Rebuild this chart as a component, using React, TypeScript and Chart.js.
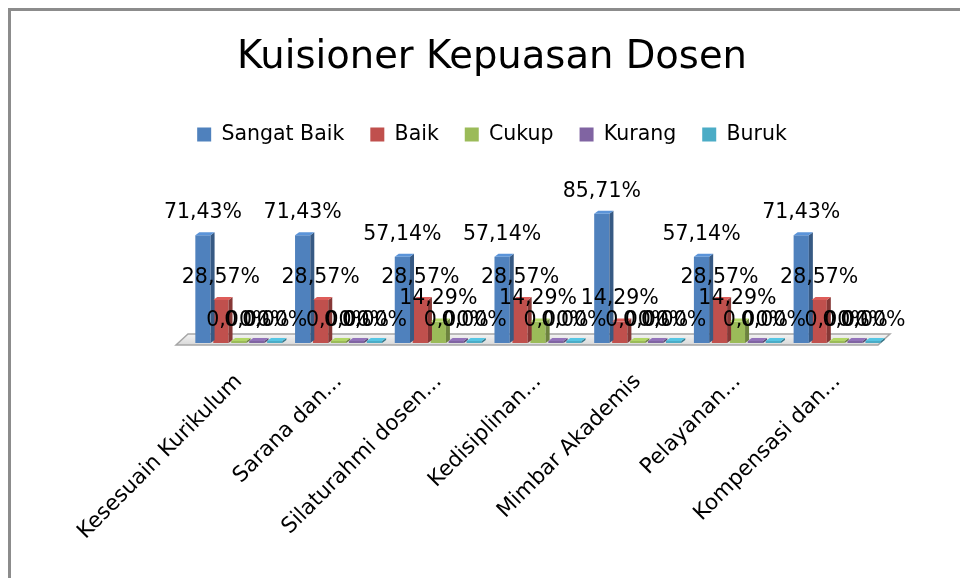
import React, { useEffect, useRef } from "react";
import { Chart, registerables } from "chart.js";

Chart.register(...registerables);

const categories = [
  "Kesesuain Kurikulum",
  "Sarana dan...",
  "Silaturahmi dosen...",
  "Kedisiplinan...",
  "Mimbar Akademis",
  "Pelayanan...",
  "Kompensasi dan...",
];
const seriesNames = ["Sangat Baik", "Baik", "Cukup", "Kurang", "Buruk"];
const sangatBaik = [71.43, 71.43, 57.14, 57.14, 85.71, 57.14, 71.43];
const baik = [28.57, 28.57, 28.57, 28.57, 14.29, 28.57, 28.57];
const cukup = [0, 0, 14.29, 14.29, 0, 14.29, 0];
const kurang = [0, 0, 0, 0, 0, 0, 0];
const buruk = [0, 0, 0, 0, 0, 0, 0];
const seriesValues = [sangatBaik, baik, cukup, kurang, buruk];
const seriesColors = ["#4F81BD", "#C0504D", "#9BBB59", "#8064A2", "#4BACC6"];

const FONT = "'DejaVu Sans'";
const TITLE_SIZE = 38.5;
const TITLE_PAD_TOP = 35;
const TITLE_PAD_BOTTOM = 17;
const LEGEND_HEIGHT = 94;

function shade(hex: string, f: number) {
  const n = parseInt(hex.slice(1), 16);
  const r = Math.round(((n >> 16) & 255) * f);
  const g = Math.round(((n >> 8) & 255) * f);
  const b = Math.round((n & 255) * f);
  return `rgb(${Math.min(255, r)},${Math.min(255, g)},${Math.min(255, b)})`;
}

const legendHeightPlugin = {
  id: "legendHeight",
  beforeUpdate(chart: any) {
    const lg = chart.legend;
    if (lg && !lg.__patched) {
      const orig = lg.fit.bind(lg);
      lg.fit = function () {
        orig();
        this.height = LEGEND_HEIGHT;
      };
      lg.__patched = true;
    }
  },
};

const floorPlugin = {
  id: "floor3d",
  beforeDatasetsDraw(chart: any) {
    const { ctx, chartArea } = chart;
    const { left, right, bottom } = chartArea;
    ctx.save();
    ctx.beginPath();
    ctx.moveTo(left - 13, bottom + 2);
    ctx.lineTo(right - 9, bottom + 2);
    ctx.lineTo(right + 3, bottom - 9);
    ctx.lineTo(left - 1, bottom - 9);
    ctx.closePath();
    const g = ctx.createLinearGradient(0, bottom - 9, 0, bottom + 2);
    g.addColorStop(0, "#f4f4f4");
    g.addColorStop(1, "#d8d8d8");
    ctx.fillStyle = g;
    ctx.fill();
    ctx.strokeStyle = "#a6a6a6";
    ctx.lineWidth = 1.5;
    ctx.stroke();
    ctx.restore();
  },
};

const bar3dPlugin = {
  id: "bar3d",
  afterDatasetsDraw(chart: any) {
    const { ctx } = chart;
    const dx = 4;
    const dy = 3;
    ctx.save();
    chart.data.datasets.forEach((ds: any, i: number) => {
      const meta = chart.getDatasetMeta(i);
      const col = seriesColors[i];
      meta.data.forEach((el: any) => {
        const { x, y, base, width } = el.getProps(["x", "y", "base", "width"], true);
        const r = x + width / 2;
        const l = x - width / 2;
        ctx.fillStyle = shade(col, 0.7);
        ctx.beginPath();
        ctx.moveTo(r, y);
        ctx.lineTo(r + dx, y - dy);
        ctx.lineTo(r + dx, base - dy);
        ctx.lineTo(r, base);
        ctx.closePath();
        ctx.fill();
        ctx.fillStyle = shade(col, 1.15);
        ctx.beginPath();
        ctx.moveTo(l, y);
        ctx.lineTo(l + dx, y - dy);
        ctx.lineTo(r + dx, y - dy);
        ctx.lineTo(r, y);
        ctx.closePath();
        ctx.fill();
      });
    });
    ctx.restore();
  },
};

const labelPlugin = {
  id: "valueLabels",
  afterDraw(chart: any) {
    const { ctx } = chart;
    ctx.save();
    ctx.font = `20.5px ${FONT}`;
    ctx.fillStyle = "#000";
    ctx.textAlign = "center";
    ctx.textBaseline = "alphabetic";
    const yScale = chart.scales.y;
    chart.data.datasets.forEach((ds: any, i: number) => {
      const meta = chart.getDatasetMeta(i);
      meta.data.forEach((el: any, j: number) => {
        const v = ds.data[j];
        const yv = yScale.getPixelForValue(v);
        const txt = v.toFixed(2).replace(".", ",") + "%";
        ctx.fillText(txt, el.x, yv - 17);
      });
    });
    ctx.restore();
  },
};

export default function App() {
  const ref = useRef<HTMLCanvasElement | null>(null);
  useEffect(() => {
    if (!ref.current) return;
    const chart = new Chart(ref.current, {
      type: "bar",
      data: {
        labels: categories,
        datasets: seriesNames.map((name, i) => ({
          label: name,
          data: seriesValues[i],
          backgroundColor: seriesColors[i],
          borderWidth: 0,
          minBarLength: 2,
          categoryPercentage: 0.9,
          barPercentage: 0.85,
        })),
      },
      options: {
        animation: false,
        responsive: false,
        maintainAspectRatio: false,
        layout: { padding: { left: 97, right: 73, top: 0, bottom: 0 } },
        plugins: {
          title: {
            display: true,
            text: "Kuisioner Kepuasan Dosen",
            color: "#000",
            font: { family: FONT, size: TITLE_SIZE, weight: "normal", lineHeight: 1.2 },
            padding: { top: TITLE_PAD_TOP, bottom: TITLE_PAD_BOTTOM },
          },
          legend: {
            display: true,
            position: "top",
            labels: {
              color: "#000",
              font: { family: FONT, size: 20.5 },
              boxWidth: 14,
              boxHeight: 14,
              padding: 26,
            },
          },
          tooltip: { enabled: false },
        },
        scales: {
          x: {
            grid: { display: false, drawTicks: false },
            border: { display: false },
            ticks: {
              color: "#000",
              font: { family: FONT, size: 21.5 },
              maxRotation: 45,
              minRotation: 45,
              autoSkip: false,
              padding: 26,
            },
            afterFit: (scale: any) => {
              scale.height = 235;
            },
          },
          y: {
            display: true,
            min: 0,
            max: 100,
            grid: { display: false, drawTicks: false },
            border: { display: false },
            ticks: { display: false },
            afterFit: (scale: any) => {
              scale.width = 92;
            },
          },
        },
      },
      plugins: [legendHeightPlugin, floorPlugin, bar3dPlugin, labelPlugin],
    });
    return () => chart.destroy();
  }, []);
  return (
    <div style={{ position: "fixed", left: 0, top: 0, width: 960, height: 578, background: "#fff" }}>
      <div
        style={{
          position: "absolute",
          left: 8,
          top: 8,
          width: 952,
          height: 570,
          borderLeft: "3px solid #8c8c8c",
          borderTop: "3px solid #8c8c8c",
          boxSizing: "border-box",
        }}
      />
      <canvas ref={ref} width={960} height={578} style={{ position: "absolute", left: 0, top: 0 }} />
    </div>
  );
}
